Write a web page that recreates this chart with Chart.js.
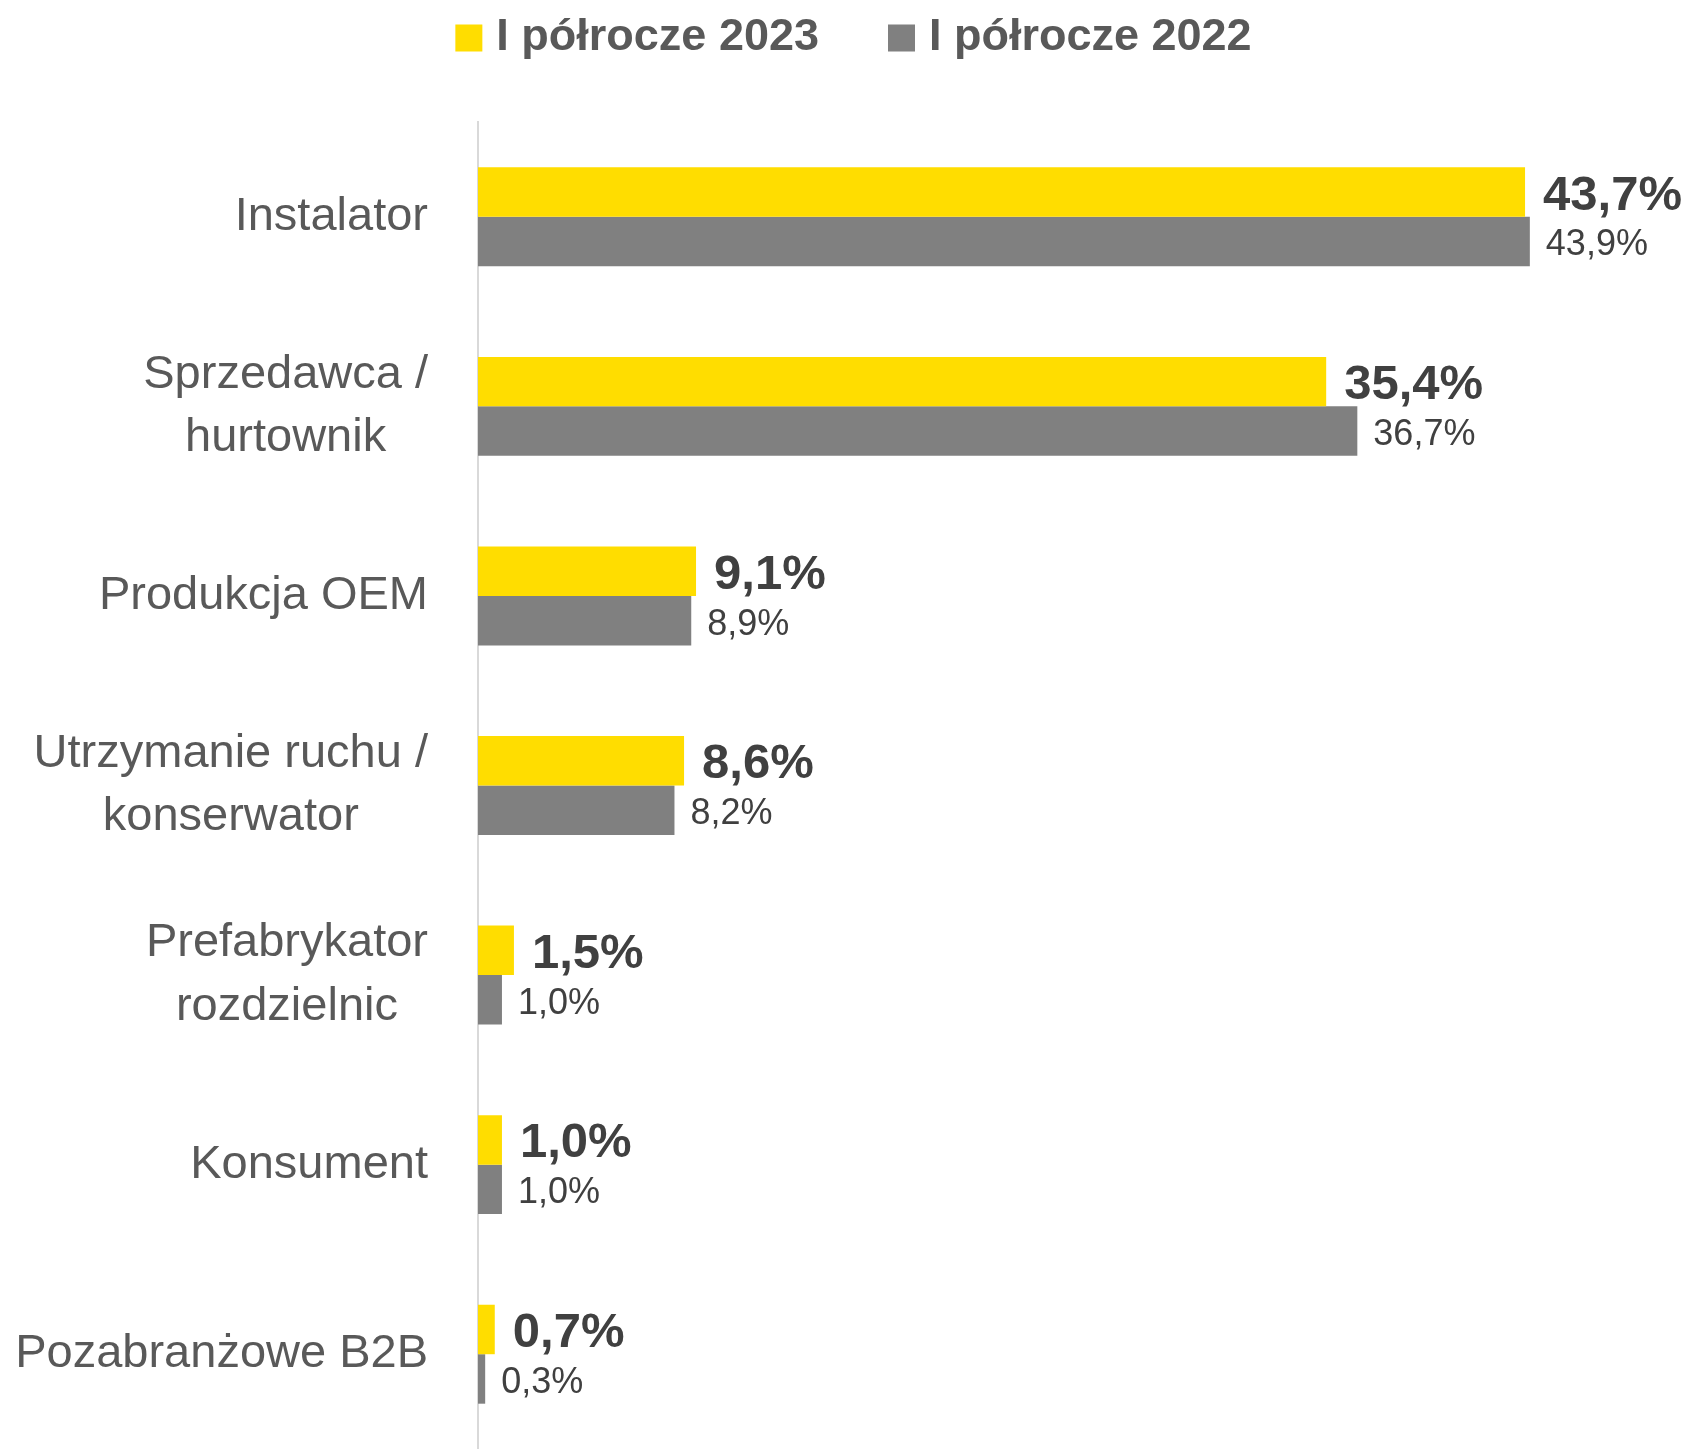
<!DOCTYPE html>
<html>
<head>
<meta charset="utf-8">
<script src="https://cdn.jsdelivr.net/npm/chart.js@4"></script>
<style>
    html, body { margin: 0; padding: 0; background: #fff; overflow: hidden; }
    #wrap { position: relative; width: 1691px; height: 1449px; }
</style>
</head>
<body>
<div id="wrap"><canvas id="chart"></canvas></div>
<script>
// data
const categories = [
    'Instalator',
    ['Sprzedawca /', 'hurtownik'],
    'Produkcja OEM',
    ['Utrzymanie ruchu /', 'konserwator'],
    ['Prefabrykator', 'rozdzielnic'],
    'Konsument',
    'Pozabranżowe B2B'
];
const seriesNames = ['I półrocze 2023', 'I półrocze 2022'];
const values2023 = [43.7, 35.4, 9.1, 8.6, 1.5, 1.0, 0.7];
const values2022 = [43.9, 36.7, 8.9, 8.2, 1.0, 1.0, 0.3];

const YELLOW = '#FFDD00';
const GREY = '#808080';
const FONT = '"Liberation Sans", Arial, sans-serif';

function fmt(v){
    return v.toFixed(1).replace('.', ',') + '%';
}

// legend drawn centered at the top of the canvas
const topLegend = {
    id: 'topLegend',
    afterDraw(chart){
        const ctx = chart.ctx;
        const box = 27, gap = 14, itemGap = 69;
        ctx.save();
        ctx.font = 'bold 45px ' + FONT;
        ctx.textBaseline = 'middle';
        let items = chart.data.datasets.map(ds => ({
            text: ds.label,
            color: ds.backgroundColor,
            w: box + gap + ctx.measureText(ds.label).width
        }));
        let total = items.reduce((s, it) => s + it.w, 0) + itemGap * (items.length - 1);
        let x = chart.width / 2 - total / 2 + 8;
        const cy = 38;
        items.forEach(it => {
            ctx.fillStyle = it.color;
            ctx.fillRect(x, cy - box / 2, box, box);
            ctx.fillStyle = '#595959';
            ctx.fillText(it.text, x + box + gap, cy);
            x += it.w + itemGap;
        });
        ctx.restore();
    }
};

// category labels: right aligned block, lines centered within block
const catLabels = {
    id: 'catLabels',
    afterDraw(chart){
        const ctx = chart.ctx;
        const yScale = chart.scales.y;
        const right = chart.chartArea.left - 50;
        const lh = 63.6;
        ctx.save();
        ctx.font = '47px ' + FONT;
        ctx.fillStyle = '#595959';
        ctx.textAlign = 'center';
        ctx.textBaseline = 'middle';
        categories.forEach((c, i) => {
            const lines = Array.isArray(c) ? c : [c];
            const bw = Math.max(...lines.map(l => ctx.measureText(l).width));
            const cx = right - bw / 2;
            const cy = yScale.getPixelForValue(i);
            lines.forEach((l, j) => {
                ctx.fillText(l, cx, cy + (j - (lines.length - 1) / 2) * lh);
            });
        });
        ctx.restore();
    }
};

// value labels at the end of each bar
const valueLabels = {
    id: 'valueLabels',
    afterDatasetsDraw(chart){
        const ctx = chart.ctx;
        ctx.save();
        ctx.fillStyle = '#404040';
        ctx.textBaseline = 'middle';
        ctx.textAlign = 'left';
        chart.data.datasets.forEach((ds, d) => {
            const meta = chart.getDatasetMeta(d);
            ctx.font = d === 0 ? 'bold 49px ' + FONT : '36px ' + FONT;
            const off = d === 0 ? 18 : 16;
            meta.data.forEach((bar, i) => {
                ctx.fillText(fmt(ds.data[i]), bar.x + off, bar.y + 4);
            });
        });
        ctx.restore();
    }
};

new Chart(document.getElementById('chart'), {
    type: 'bar',
    data: {
        labels: categories,
        datasets: [
            { label: seriesNames[0], data: values2023, backgroundColor: YELLOW },
            { label: seriesNames[1], data: values2022, backgroundColor: GREY }
        ]
    },
    options: {
        indexAxis: 'y',
        responsive: true,
        maintainAspectRatio: false,
        animation: false,
        categoryPercentage: 0.522,
        barPercentage: 1,
        layout: { padding: { left: 470, right: 15, top: 122, bottom: 0 } },
        plugins: {
            legend: { display: false },
            tooltip: { enabled: false }
        },
        scales: {
            x: { min: 0, max: 50, display: false },
            y: {
                ticks: { display: false },
                grid: { display: false },
                border: { display: true, color: '#d9d9d9', width: 2 }
            }
        }
    },
    plugins: [topLegend, catLabels, valueLabels]
});
</script>
</body>
</html>
